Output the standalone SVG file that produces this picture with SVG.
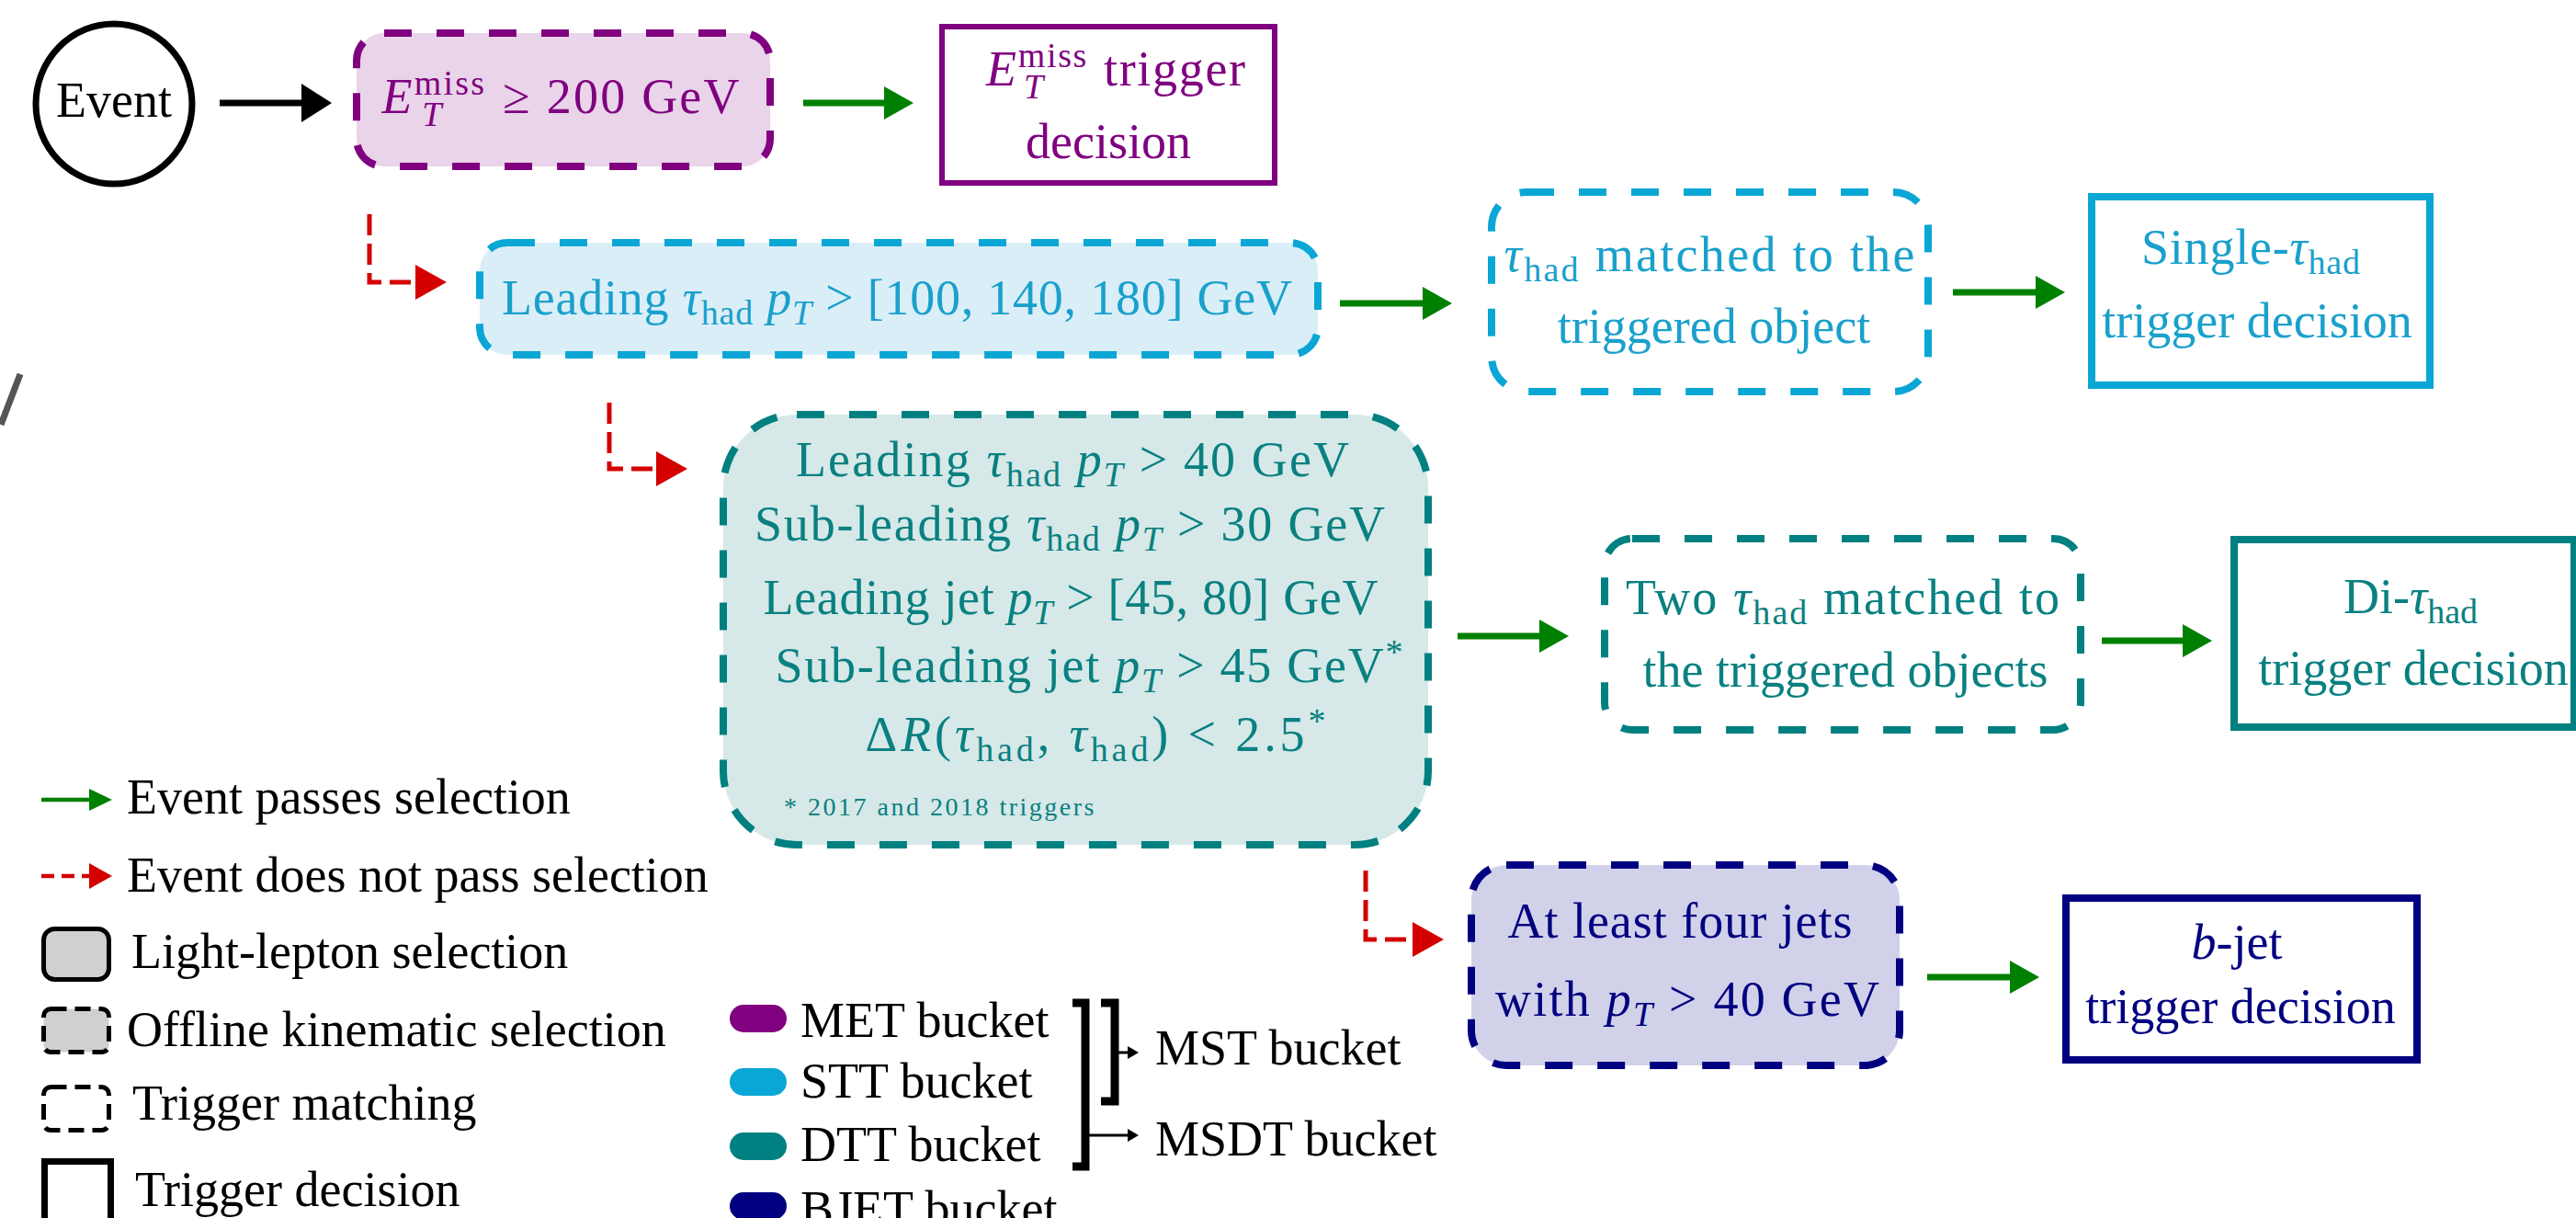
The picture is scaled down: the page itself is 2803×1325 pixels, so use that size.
<svg xmlns="http://www.w3.org/2000/svg" width="2803" height="1325" viewBox="0 0 2803 1325">
  <defs>
    <style>
      .t{font-family:"Liberation Serif","Times New Roman",serif;font-size:54px}
      .i{font-style:italic}
      .s{font-size:38px}
      .fn{font-size:28px;letter-spacing:2.5px}
      .c-met{fill:#800080}
      .c-stt{fill:#1aa0cc}
      .c-dtt{fill:#0a8080}
      .c-bj{fill:#000080}
      .c-k{fill:#000}
      .dash{stroke-width:8;stroke-dasharray:30 27}
      .solid{stroke-width:8;fill:#fff}
      .ln{fill:none;stroke-width:7}
      .g{stroke:#008000}
      .r{stroke:#d40000;stroke-dasharray:23 9;stroke-width:5}
      .k{stroke:#000}
    </style>
    <marker id="hg" markerUnits="userSpaceOnUse" viewBox="0 0 32 36" markerWidth="32" markerHeight="36" refX="0" refY="18" orient="auto">
      <path d="M0,0 L32,18 L0,36 z" fill="#008000"/>
    </marker>
    <marker id="hr" markerUnits="userSpaceOnUse" viewBox="0 0 34 38" markerWidth="34" markerHeight="38" refX="0" refY="19" orient="auto">
      <path d="M0,0 L34,19 L0,38 z" fill="#d40000"/>
    </marker>
    <marker id="hk" markerUnits="userSpaceOnUse" viewBox="0 0 33 42" markerWidth="33" markerHeight="42" refX="0" refY="21" orient="auto">
      <path d="M0,0 L33,21 L0,42 z" fill="#000"/>
    </marker>
    <marker id="hg-s" markerUnits="userSpaceOnUse" viewBox="0 0 25 24" markerWidth="25" markerHeight="24" refX="0" refY="12" orient="auto">
      <path d="M0,0 L25,12 L0,24 z" fill="#008000"/>
    </marker>
    <marker id="hr-s" markerUnits="userSpaceOnUse" viewBox="0 0 25 28" markerWidth="25" markerHeight="28" refX="0" refY="14" orient="auto">
      <path d="M0,0 L25,14 L0,28 z" fill="#d40000"/>
    </marker>
    <marker id="hk-s" markerUnits="userSpaceOnUse" viewBox="0 0 12 14" markerWidth="12" markerHeight="14" refX="0" refY="7" orient="auto">
      <path d="M0,0 L12,7 L0,14 z" fill="#000"/>
    </marker>
  </defs>

  <rect width="2803" height="1325" fill="#fff"/>

  <!-- stray stroke at the left margin -->
  <line x1="22" y1="407" x2="1" y2="462" stroke="#555" stroke-width="7"/>

  <!-- start node -->
  <g id="event">
    <ellipse cx="124" cy="113" rx="85" ry="87" fill="#fff" stroke="#000" stroke-width="7"/>
    <text class="t c-k" x="124" y="127" text-anchor="middle">Event</text>
  </g>

  <!-- MET bucket -->
  <g id="met-selection">
    <rect x="388" y="36" width="450" height="145" rx="30" fill="#e9d4e9" stroke="#800080" class="dash"/>
    <text class="t c-met" x="610" y="123" text-anchor="middle" textLength="389" lengthAdjust="spacing"><tspan class="i">E</tspan><tspan class="s" dy="-20">miss</tspan><tspan class="s i" dx="-70" dy="34">T</tspan><tspan dx="49" dy="-14"> ≥ 200 GeV</tspan></text>
  </g>
  <g id="met-decision">
    <rect x="1025" y="29" width="362" height="170" stroke="#800080" class="solid" style="stroke-width:6"/>
    <text class="t c-met" x="1214" y="93" text-anchor="middle" textLength="282" lengthAdjust="spacing"><tspan class="i">E</tspan><tspan class="s" dy="-20">miss</tspan><tspan class="s i" dx="-70" dy="34">T</tspan><tspan dx="49" dy="-14"> trigger</tspan></text>
    <text class="t c-met" x="1206" y="172" text-anchor="middle">decision</text>
  </g>

  <!-- STT bucket -->
  <g id="stt-selection">
    <rect x="522" y="264" width="912" height="122" rx="30" fill="#daeef7" stroke="#0aa6d5" class="dash"/>
    <text class="t c-stt" x="976" y="342" text-anchor="middle" textLength="860" lengthAdjust="spacing">Leading <tspan class="i">τ</tspan><tspan class="s" dy="11">had</tspan><tspan dy="-11"> </tspan><tspan class="i">p</tspan><tspan class="s i" dy="11">T</tspan><tspan dy="-11"> &gt; [100, 140, 180] GeV</tspan></text>
  </g>
  <g id="stt-matching">
    <rect x="1623" y="209" width="475" height="217" rx="38" fill="#fff" stroke="#0aa6d5" class="dash"/>
    <text class="t c-stt" x="1860" y="295" text-anchor="middle" textLength="447" lengthAdjust="spacing"><tspan class="i">τ</tspan><tspan class="s" dy="11">had</tspan><tspan dy="-11"> matched to the</tspan></text>
    <text class="t c-stt" x="1865" y="373" text-anchor="middle">triggered object</text>
  </g>
  <g id="stt-decision">
    <rect x="2276" y="214" width="368" height="205" stroke="#0aa6d5" class="solid"/>
    <text class="t c-stt" x="2449" y="287" text-anchor="middle" textLength="238" lengthAdjust="spacing">Single-<tspan class="i">τ</tspan><tspan class="s" dy="11">had</tspan></text>
    <text class="t c-stt" x="2456" y="367" text-anchor="middle">trigger decision</text>
  </g>

  <!-- DTT bucket -->
  <g id="dtt-selection">
    <rect x="787" y="451" width="767" height="468" rx="80" fill="#d6e8e8" stroke="#008080" class="dash"/>
    <text class="t c-dtt" x="1167" y="518" text-anchor="middle" textLength="602" lengthAdjust="spacing">Leading <tspan class="i">τ</tspan><tspan class="s" dy="11">had</tspan><tspan dy="-11"> </tspan><tspan class="i">p</tspan><tspan class="s i" dy="11">T</tspan><tspan dy="-11"> &gt; 40 GeV</tspan></text>
    <text class="t c-dtt" x="1164" y="588" text-anchor="middle" textLength="686" lengthAdjust="spacing">Sub-leading <tspan class="i">τ</tspan><tspan class="s" dy="11">had</tspan><tspan dy="-11"> </tspan><tspan class="i">p</tspan><tspan class="s i" dy="11">T</tspan><tspan dy="-11"> &gt; 30 GeV</tspan></text>
    <text class="t c-dtt" x="1165" y="668" text-anchor="middle" textLength="669" lengthAdjust="spacing">Leading jet <tspan class="i">p</tspan><tspan class="s i" dy="11">T</tspan><tspan dy="-11"> &gt; [45, 80] GeV</tspan></text>
    <text class="t c-dtt" x="1185" y="742" text-anchor="middle" textLength="683" lengthAdjust="spacing">Sub-leading jet <tspan class="i">p</tspan><tspan class="s i" dy="11">T</tspan><tspan dy="-11"> &gt; 45 GeV</tspan><tspan class="s" dy="-20">*</tspan></text>
    <text class="t c-dtt" x="1192" y="817" text-anchor="middle" textLength="501" lengthAdjust="spacing">Δ<tspan class="i">R</tspan>(<tspan class="i">τ</tspan><tspan class="s" dy="11">had</tspan><tspan dy="-11">, </tspan><tspan class="i">τ</tspan><tspan class="s" dy="11">had</tspan><tspan dy="-11">) &lt; 2.5</tspan><tspan class="s" dy="-20">*</tspan></text>
    <text class="t fn c-dtt" x="853" y="887">* 2017 and 2018 triggers</text>
  </g>
  <g id="dtt-matching">
    <rect x="1746" y="586" width="518" height="208" rx="30" fill="#fff" stroke="#008080" class="dash"/>
    <text class="t c-dtt" x="2005" y="668" text-anchor="middle" textLength="472" lengthAdjust="spacing">Two <tspan class="i">τ</tspan><tspan class="s" dy="11">had</tspan><tspan dy="-11"> matched to</tspan></text>
    <text class="t c-dtt" x="2008" y="747" text-anchor="middle">the triggered objects</text>
  </g>
  <g id="dtt-decision">
    <rect x="2431" y="587" width="370" height="204" stroke="#008080" class="solid"/>
    <text class="t c-dtt" x="2623" y="667" text-anchor="middle">Di-<tspan class="i">τ</tspan><tspan class="s" dy="11">had</tspan></text>
    <text class="t c-dtt" x="2626" y="745" text-anchor="middle">trigger decision</text>
  </g>

  <!-- BJET bucket -->
  <g id="bjet-selection">
    <rect x="1601" y="941" width="466" height="218" rx="38" fill="#d1d1ea" stroke="#000080" class="dash"/>
    <text class="t c-bj" x="1828" y="1020" text-anchor="middle" textLength="375" lengthAdjust="spacing">At least four jets</text>
    <text class="t c-bj" x="1836" y="1105" text-anchor="middle" textLength="418" lengthAdjust="spacing">with <tspan class="i">p</tspan><tspan class="s i" dy="11">T</tspan><tspan dy="-11"> &gt; 40 GeV</tspan></text>
  </g>
  <g id="bjet-decision">
    <rect x="2248" y="977" width="382" height="176" stroke="#000080" class="solid"/>
    <text class="t c-bj" x="2434" y="1043" text-anchor="middle"><tspan class="i">b</tspan>-jet</text>
    <text class="t c-bj" x="2438" y="1113" text-anchor="middle">trigger decision</text>
  </g>

  <!-- flow connectors -->
  <g id="connectors">
    <line class="ln k" x1="239" y1="112" x2="328" y2="112" marker-end="url(#hk)"/>
    <line class="ln g" x1="874" y1="112" x2="962" y2="112" marker-end="url(#hg)"/>
    <path class="ln r" d="M402,233 V307 H452" marker-end="url(#hr)"/>
    <line class="ln g" x1="1458" y1="330" x2="1548" y2="330" marker-end="url(#hg)"/>
    <line class="ln g" x1="2125" y1="318" x2="2215" y2="318" marker-end="url(#hg)"/>
    <path class="ln r" d="M663,438 V510 H714" marker-end="url(#hr)"/>
    <line class="ln g" x1="1586" y1="692" x2="1675" y2="692" marker-end="url(#hg)"/>
    <line class="ln g" x1="2287" y1="697" x2="2375" y2="697" marker-end="url(#hg)"/>
    <path class="ln r" d="M1486,947 V1022 H1537" marker-end="url(#hr)"/>
    <line class="ln g" x1="2097" y1="1063" x2="2187" y2="1063" marker-end="url(#hg)"/>
  </g>

  <!-- legend: arrows and node styles -->
  <g id="legend">
    <line class="ln g" style="stroke-width:4.5" x1="45" y1="870" x2="97" y2="870" marker-end="url(#hg-s)"/>
    <text class="t c-k" x="138" y="885">Event passes selection</text>
    <line class="ln r" style="stroke-width:4.5;stroke-dasharray:14 8" x1="45" y1="953" x2="97" y2="953" marker-end="url(#hr-s)"/>
    <text class="t c-k" x="138" y="970">Event does not pass selection</text>
    <rect x="47.5" y="1010.5" width="71" height="55" rx="12" fill="#d0d0d0" stroke="#000" stroke-width="5"/>
    <text class="t c-k" x="143" y="1053">Light-lepton selection</text>
    <rect x="47.5" y="1097.5" width="71" height="47" rx="8" fill="#d0d0d0" stroke="#000" stroke-width="5" stroke-dasharray="17 9"/>
    <text class="t c-k" x="138" y="1138">Offline kinematic selection</text>
    <rect x="47.5" y="1182.5" width="71" height="47" rx="8" fill="#fff" stroke="#000" stroke-width="5" stroke-dasharray="17 9"/>
    <text class="t c-k" x="144" y="1218">Trigger matching</text>
    <rect x="48.5" y="1263.5" width="72" height="80" fill="#fff" stroke="#000" stroke-width="7"/>
    <text class="t c-k" x="147" y="1312">Trigger decision</text>
  </g>

  <!-- legend: trigger buckets -->
  <g id="buckets">
    <rect x="794" y="1093" width="62" height="30" rx="15" fill="#800080"/>
    <text class="t c-k" x="871" y="1128">MET bucket</text>
    <rect x="794" y="1162" width="62" height="30" rx="15" fill="#0aa6d5"/>
    <text class="t c-k" x="871" y="1194">STT bucket</text>
    <rect x="794" y="1232" width="62" height="30" rx="15" fill="#008080"/>
    <text class="t c-k" x="871" y="1263">DTT bucket</text>
    <rect x="794" y="1297" width="62" height="30" rx="15" fill="#000080"/>
    <text class="t c-k" x="871" y="1333">BJET bucket</text>
    <path d="M1167,1091 H1181 V1269 H1167" fill="none" stroke="#000" stroke-width="9"/>
    <path d="M1198,1091 H1213 V1198 H1198" fill="none" stroke="#000" stroke-width="9"/>
    <line x1="1217" y1="1145" x2="1227" y2="1145" stroke="#000" stroke-width="3" marker-end="url(#hk-s)"/>
    <line x1="1185" y1="1235" x2="1227" y2="1235" stroke="#000" stroke-width="3" marker-end="url(#hk-s)"/>
    <text class="t c-k" x="1257" y="1158">MST bucket</text>
    <text class="t c-k" x="1257" y="1257">MSDT bucket</text>
  </g>
</svg>
